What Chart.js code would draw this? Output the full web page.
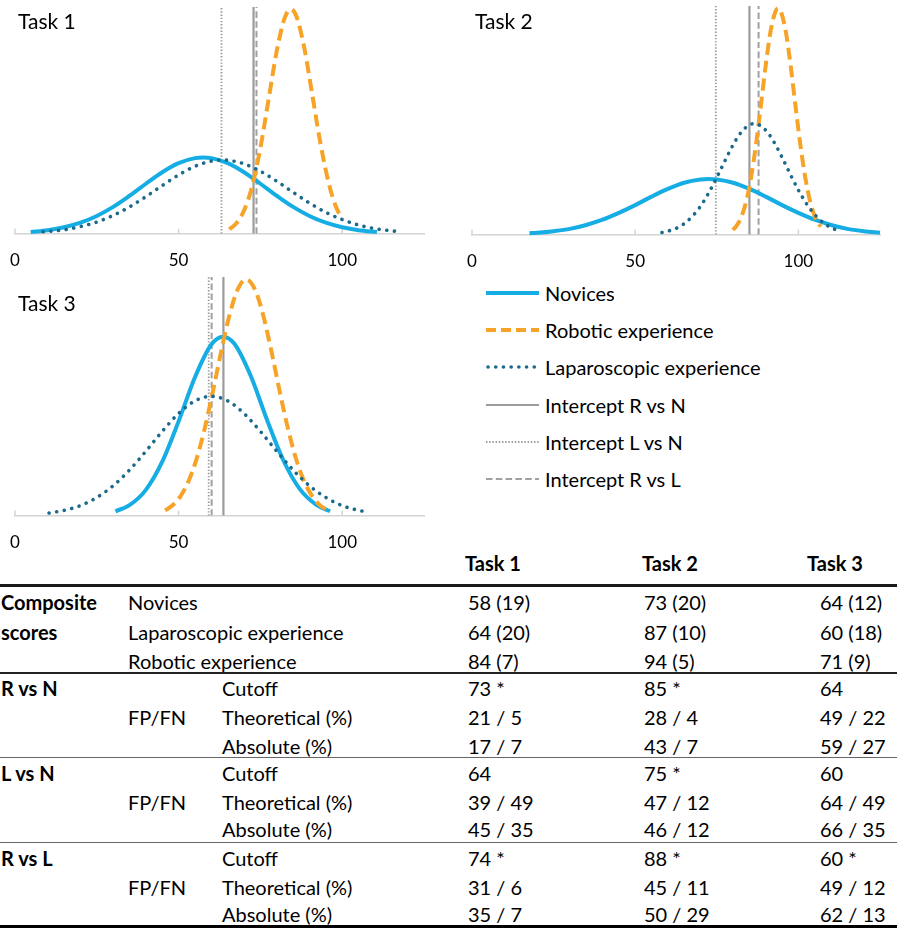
<!DOCTYPE html>
<html>
<head>
<meta charset="utf-8">
<script src="https://cdn.jsdelivr.net/npm/chart.js@4.4.0/dist/chart.umd.min.js"></script>
<style>
  body { margin:0; background:#fff; font-family:Lato, "Open Sans", sans-serif; color:#000; }
  #page { position:relative; width:897px; height:929px; overflow:hidden; }
  canvas { position:absolute; }
  .ttl { position:absolute; font-size:21px; line-height:24px; white-space:nowrap; }
  .leg { position:absolute; left:486px; height:28px; display:flex; align-items:center; font-size:20px; white-space:nowrap; }
  .leg svg { margin-right:5px; }
  .cell { position:absolute; height:28px; line-height:28px; font-size:20px; white-space:nowrap; }
  .b { font-weight:bold; }
  .rule { position:absolute; left:0; width:897px; }
</style>
</head>
<body>
<div id="page">
  <canvas id="c1" width="440" height="271" style="left:0;top:0"></canvas>
  <canvas id="c2" width="447" height="272" style="left:450px;top:0"></canvas>
  <canvas id="c3" width="440" height="283" style="left:0;top:270px"></canvas>
  <div class="ttl" style="left:18px;top:9px">Task 1</div>
  <div class="ttl" style="left:475px;top:9px">Task 2</div>
  <div class="ttl" style="left:18px;top:291px">Task 3</div>
  <div id="legend"></div>
  <div id="table"></div>
</div>
<script>
// ---- axis ----
const xTicks = [0, 50, 100];
const xMax = 125;
const yTop = 100;

// ---- Task 1 curves (x = score, y = relative height) ----
const t1NovX = [4.8, 10, 15, 20, 25, 30, 35, 40, 45, 50, 55, 57.5, 60, 65, 70, 75, 80, 85, 90, 95, 100, 105, 110.6];
const t1NovY = [0.7, 1.5, 2.8, 4.8, 7.8, 11.8, 16.7, 22.0, 27.1, 31.1, 33.3, 33.6, 33.3, 31.1, 27.1, 22.0, 16.7, 11.8, 7.8, 4.8, 2.8, 1.5, 0.7];
const t1RobX = [65.5, 67.5, 70, 72.5, 75, 77.5, 80, 82.5, 84.3, 86, 88.5, 91, 93.5, 96, 98, 100];
const t1RobY = [1.9, 4.3, 10.2, 21.0, 37.8, 59.2, 80.6, 95.5, 99, 95.9, 81.3, 60.0, 38.6, 21.6, 12.2, 6.4];
const t1LapX = [8.6, 15, 20, 25, 30, 35, 40, 45, 50, 55, 60, 63.5, 65, 70, 75, 80, 85, 90, 95, 100, 105, 110, 117.7];
const t1LapY = [0.8, 1.7, 3.1, 5.1, 8.0, 11.8, 16.3, 21.2, 25.9, 29.7, 32.0, 32.5, 32.4, 30.8, 27.5, 23.1, 18.2, 13.5, 9.4, 6.2, 3.8, 2.2, 0.8];
const t1Cuts = [72.9, 63.1, 73.8];   // R vs N, L vs N, R vs L

// ---- Task 2 ----
const t2NovX = [17.6, 20, 25, 30, 35, 40, 45, 50, 55, 60, 65, 70, 72.5, 75, 80, 85, 90, 95, 100, 105, 110, 115, 120, 125];
const t2NovY = [0.6, 0.8, 1.5, 2.5, 4.2, 6.5, 9.5, 12.9, 16.6, 20.0, 22.7, 24.1, 24.3, 24.1, 22.7, 20.0, 16.6, 12.9, 9.5, 6.5, 4.2, 2.5, 1.5, 0.8];
const t2RobX = [79.9, 81, 82.5, 84, 85.5, 87, 88.5, 90, 91.5, 93, 93.8, 94.6, 96.1, 97.6, 99.1, 100.6, 102.1, 103.6, 105.1, 106.8];
const t2RobY = [2.1, 3.7, 7.7, 14.5, 25.0, 39.3, 56.4, 74.2, 89.1, 97.7, 99, 97.7, 89.1, 74.2, 56.4, 39.3, 25.0, 14.5, 7.7, 3.4];
const t2LapX = [58.2, 60, 62.5, 65, 67.5, 70, 72.5, 75, 77.5, 80, 82.5, 85, 86.5, 88, 90.5, 93, 95.5, 98, 100.5, 103, 105.5, 108, 110.5, 113.3];
const t2LapY = [0.9, 1.5, 2.7, 4.8, 8.0, 12.4, 18.2, 25.0, 32.3, 39.3, 44.8, 48.0, 48.5, 48.0, 44.8, 39.3, 32.3, 25.0, 18.2, 12.4, 8.0, 4.8, 2.7, 1.3];
const t2Cuts = [85.0, 74.7, 87.8];

// ---- Task 3 ----
const t3NovX = [30.7, 35, 40, 45, 50, 55, 60, 63.6, 67, 72, 77, 82, 87, 92, 96.3];
const t3NovY = [1.8, 4.4, 10.8, 22.6, 39.5, 58.0, 71.7, 75, 72.1, 58.7, 40.2, 23.2, 11.2, 4.6, 1.8];
const t3RobX = [45.9, 48, 50.5, 53, 55.5, 58, 60.5, 63, 65.5, 68, 70.7, 73.4, 76, 78.5, 81, 83.5, 86, 88.5, 91, 93, 95.4];
const t3RobY = [2.2, 4.1, 8.0, 14.3, 23.8, 36.6, 52.1, 68.7, 83.8, 94.6, 99, 94.6, 83.2, 68.0, 51.4, 36.0, 23.3, 14.0, 7.8, 4.6, 2.3];
const t3LapX = [10.4, 15, 20, 25, 30, 35, 40, 45, 50, 55, 60, 65, 70, 75, 80, 85, 90, 95, 100, 105, 107];
const t3LapY = [1.1, 2.2, 4.2, 7.6, 12.5, 19.1, 27.0, 35.3, 42.8, 48.1, 50, 48.1, 42.8, 35.3, 27.0, 19.1, 12.5, 7.6, 4.2, 2.2, 1.7];
const t3Cuts = [63.7, 59.2, 60.1];

// ---- table ----
const tableHead = ['Task 1', 'Task 2', 'Task 3'];
const tableBody = [
  ['Composite', 'Novices', '', '58 (19)', '73 (20)', '64 (12)'],
  ['scores', 'Laparoscopic experience', '', '64 (20)', '87 (10)', '60 (18)'],
  ['', 'Robotic experience', '', '84 (7)', '94 (5)', '71 (9)'],
  ['R vs N', '', 'Cutoff', '73 *', '85 *', '64'],
  ['', 'FP/FN', 'Theoretical (%)', '21 / 5', '28 / 4', '49 / 22'],
  ['', '', 'Absolute (%)', '17 / 7', '43 / 7', '59 / 27'],
  ['L vs N', '', 'Cutoff', '64', '75 *', '60'],
  ['', 'FP/FN', 'Theoretical (%)', '39 / 49', '47 / 12', '64 / 49'],
  ['', '', 'Absolute (%)', '45 / 35', '46 / 12', '66 / 35'],
  ['R vs L', '', 'Cutoff', '74 *', '88 *', '60 *'],
  ['', 'FP/FN', 'Theoretical (%)', '31 / 6', '45 / 11', '49 / 12'],
  ['', '', 'Absolute (%)', '35 / 7', '50 / 29', '62 / 13']
];

// line styles, shared by charts and legend
const S = {
  nov: { label: 'Novices', borderColor: '#15ade3', borderWidth: 4, borderDash: [] },
  rob: { label: 'Robotic experience', borderColor: '#f6a327', borderWidth: 4, borderDash: [12, 6] },
  lap: { label: 'Laparoscopic experience', borderColor: '#1b6a8c', borderWidth: 3.6, borderDash: [0.1, 7.6], borderCapStyle: 'round' },
  rn:  { label: 'Intercept R vs N', borderColor: '#9c9c9c', borderWidth: 2.2, borderDash: [] },
  ln:  { label: 'Intercept L vs N', borderColor: '#999', borderWidth: 1.8, borderDash: [1.4, 1.8] },
  rl:  { label: 'Intercept R vs L', borderColor: '#a0a0a0', borderWidth: 2, borderDash: [6.5, 3.3] }
};

const pts = (xs, ys) => xs.map((x, i) => ({ x, y: ys[i] }));
const vline = v => [{ x: v, y: 0 }, { x: v, y: yTop }];

// small tick marks pointing up from the axis
const upTicks = {
  id: 'upTicks',
  beforeDatasetsDraw(chart) {
    const sx = chart.scales.x, ctx = chart.ctx, b = chart.chartArea.bottom;
    ctx.save();
    ctx.strokeStyle = '#d4d4d4';
    ctx.lineWidth = 1.5;
    sx.ticks.forEach(t => {
      const px = sx.getPixelForValue(t.value);
      ctx.beginPath(); ctx.moveTo(px, b); ctx.lineTo(px, b - 5); ctx.stroke();
    });
    ctx.restore();
  }
};

function makeChart(id, nov, rob, lap, cuts, pad) {
  const curve = (st, data, order) => Object.assign({}, st, {
    data, order, pointRadius: 0, fill: false, clip: 8,
    cubicInterpolationMode: 'monotone'
  });
  return new Chart(document.getElementById(id), {
    type: 'line',
    data: {
      datasets: [
        curve(S.lap, lap, 1),
        curve(S.rob, rob, 2),
        curve(S.nov, nov, 3),
        curve(S.rn, vline(cuts[0]), 4),
        curve(S.rl, vline(cuts[2]), 5),
        curve(S.ln, vline(cuts[1]), 6)
      ]
    },
    options: {
      responsive: false,
      animation: false,
      layout: { padding: pad },
      plugins: { legend: { display: false }, tooltip: { enabled: false } },
      scales: {
        x: {
          type: 'linear', min: 0, max: xMax,
          afterBuildTicks: a => { a.ticks = xTicks.map(v => ({ value: v })); },
          // invisible tick marks only push the labels down
          grid: { display: true, drawOnChartArea: false, drawTicks: true, tickLength: 17, tickColor: 'rgba(0,0,0,0)' },
          border: { display: true, color: '#d4d4d4', width: 1.5 },
          ticks: { padding: 0, color: '#000', font: { family: 'Lato', size: 17 } }
        },
        y: { display: false, min: 0, max: yTop }
      }
    },
    plugins: [upTicks]
  });
}

makeChart('c1', pts(t1NovX, t1NovY), pts(t1RobX, t1RobY), pts(t1LapX, t1LapY), t1Cuts,
  { left: 15, right: 16, top: 7, bottom: 0 });
makeChart('c2', pts(t2NovX, t2NovY), pts(t2RobX, t2RobY), pts(t2LapX, t2LapY), t2Cuts,
  { left: 22, right: 17, top: 6, bottom: 0 });
makeChart('c3', pts(t3NovX, t3NovY), pts(t3RobX, t3RobY), pts(t3LapX, t3LapY), t3Cuts,
  { left: 15, right: 16, top: 7, bottom: 0 });

// ---- legend ----
const legendOrder = ['nov', 'rob', 'lap', 'rn', 'ln', 'rl'];
const legendMid = [292.7, 330, 367.3, 405, 442.3, 479.3];
document.getElementById('legend').innerHTML = legendOrder.map((k, i) => {
  const st = S[k];
  const cap = st.borderCapStyle === 'round' ? 'round' : 'butt';
  const x0 = cap === 'round' ? 2 : 0;
  const dash = !st.borderDash.length ? 'none' : (k === 'rob' ? '10 5' : st.borderDash.join(' '));
  return `<div class="leg" style="top:${legendMid[i] - 14}px">
    <svg width="54" height="10"><line x1="${x0}" y1="5" x2="53" y2="5" stroke="${st.borderColor}"
      stroke-width="${st.borderWidth}" stroke-linecap="${cap}" stroke-dasharray="${dash}"/></svg>
    <span>${st.label}</span></div>`;
}).join('');

// ---- table ----
const headMid = 563.3;
const headLeft = [465, 642, 807];
const rowMid = [602.3, 631.5, 661, 688.3, 716.7, 746, 773.3, 801.7, 829.3, 858.3, 886.7, 914];
const colLeft = [1, 128, 222, 468, 644, 820];
const rules = [
  { y: 585.5, w: 2.5, c: '#1a1a1a' },
  { y: 672.8, w: 2, c: '#222' },
  { y: 757.3, w: 1.3, c: '#666' },
  { y: 842.5, w: 1.5, c: '#666' },
  { y: 926.7, w: 3, c: '#000' }
];
let html = tableHead.map((h, i) =>
  `<div class="cell b" style="left:${headLeft[i]}px;top:${headMid - 14}px">${h}</div>`).join('');
tableBody.forEach((row, r) => {
  row.forEach((txt, c) => {
    if (!txt) return;
    html += `<div class="cell${c === 0 ? ' b' : ''}" style="left:${colLeft[c]}px;top:${rowMid[r] - 14}px">${txt}</div>`;
  });
});
html += rules.map(l => `<div class="rule" style="top:${l.y - l.w / 2}px;height:${l.w}px;background:${l.c}"></div>`).join('');
document.getElementById('table').innerHTML = html;
</script>
</body>
</html>
